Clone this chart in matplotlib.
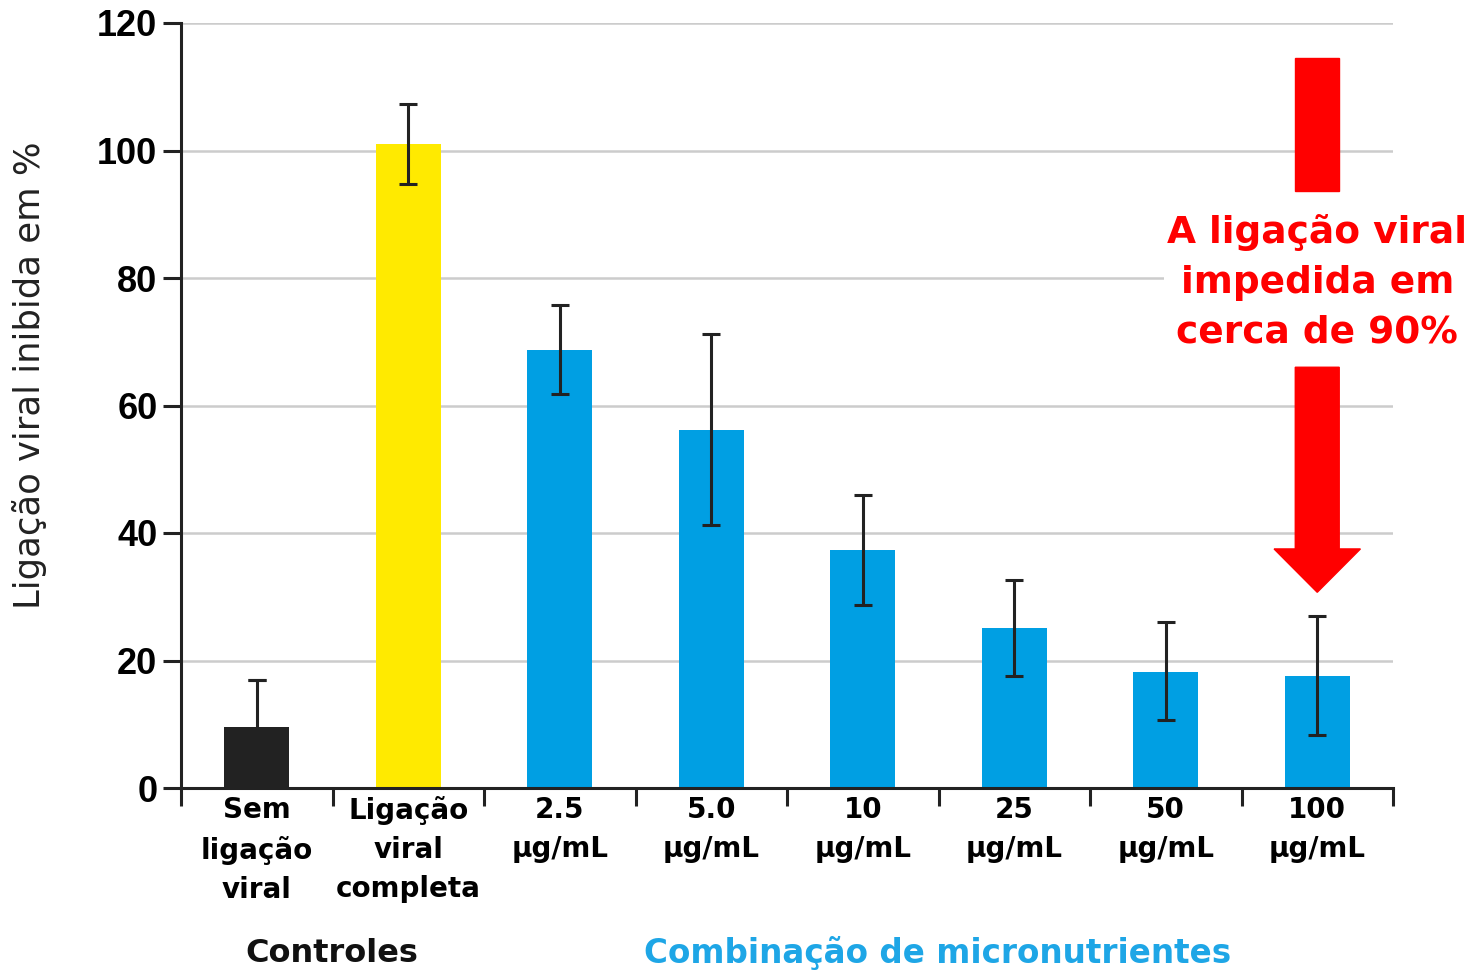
import matplotlib
matplotlib.use("Agg")
import matplotlib.pyplot as plt
from matplotlib.patches import Polygon, Rectangle
import numpy as np

categories = ["Sem\nligação\nviral", "Ligação\nviral\ncompleta", "2.5\nµg/mL", "5.0\nµg/mL",
              "10\nµg/mL", "25\nµg/mL", "50\nµg/mL", "100\nµg/mL"]
values = [9.6, 101.0, 68.7, 56.2, 37.3, 25.1, 18.2, 17.6]
err_low = [0.0, 6.3, 6.9, 15.0, 8.6, 7.6, 7.6, 9.3]
err_high = [7.3, 6.3, 7.1, 15.0, 8.7, 7.5, 7.8, 9.4]
bar_colors = ["#222222", "#ffea00", "#009fe3", "#009fe3", "#009fe3", "#009fe3", "#009fe3", "#009fe3"]
yticks = [0, 20, 40, 60, 80, 100, 120]

W, H = 1471, 973
fig = plt.figure(figsize=(W / 100, H / 100), dpi=100)
ax = fig.add_axes([181 / W, 1 - 788 / H, (1393 - 181) / W, (788 - 23) / H])

x = np.arange(len(categories))
ax.set_xlim(-0.5, len(categories) - 0.5)
ax.set_ylim(0, 120)

for yv in yticks[1:]:
    ax.axhline(yv, color="#cccccc", lw=1.8, zorder=0)

ax.bar(x, values, width=0.43, color=bar_colors, zorder=2)

vals = np.array(values)
lo = np.array(err_low)
hi = np.array(err_high)
both = lo > 0
ax.errorbar(x[both], vals[both], yerr=[lo[both], hi[both]], fmt="none", ecolor="#222222",
            elinewidth=2.2, capsize=6.5, capthick=2.2, zorder=3)
up = ~both
ax.vlines(x[up], vals[up], vals[up] + hi[up], color="#222222", lw=2.2, zorder=3)
ax.errorbar(x[up], vals[up] + hi[up], yerr=0 * hi[up], fmt="none", ecolor="#222222",
            elinewidth=2.2, capsize=6.5, capthick=2.2, zorder=3)

# spines / ticks
for s in ["top", "right"]:
    ax.spines[s].set_visible(False)
for s in ["left", "bottom"]:
    ax.spines[s].set_linewidth(2.2)
    ax.spines[s].set_color("#222222")

ax.set_yticks(yticks)
ax.set_yticklabels([str(v) for v in yticks], fontsize=26, fontweight="bold",
                   family="Liberation Sans")
ax.tick_params(axis="y", length=13, width=2.2, color="#222222", pad=4)

ax.set_xticks(np.arange(-0.5, len(categories), 1.0))
ax.set_xticklabels([])
ax.set_xticks(x, minor=True)
ax.set_xticklabels(categories, minor=True, fontsize=20, fontweight="bold",
                   family="DejaVu Sans", linespacing=1.5, va="top")
ax.tick_params(axis="x", which="major", length=13, width=2.2, color="#222222", direction="out")
ax.tick_params(axis="x", which="minor", length=0, pad=6)

fig.text(30 / W, 1 - 375 / H, "Ligação viral inibida em %", rotation=90, ha="center",
         va="center", fontsize=25.5, family="DejaVu Sans", color="#222222")

# group labels
fig.text(332 / W, 1 - 953 / H, "Controles", ha="center", va="center",
         fontsize=23, fontweight="bold", family="DejaVu Sans", color="#111111")
fig.text(938 / W, 1 - 953 / H, "Combinação de micronutrientes", ha="center", va="center",
         fontsize=23.5, fontweight="bold", family="DejaVu Sans", color="#1ea6e6")

# red annotation arrow
xa = x[-1]
half_shaft = 0.145
half_head = 0.285
tip = values[-1] + err_high[-1] + 3.7
head_base = tip + 6.8
shaft_top = 66.0
ax.add_patch(Rectangle((xa - half_shaft, 93.6), 2 * half_shaft, 114.5 - 93.6,
                       color="#ff0000", zorder=5, clip_on=False))
ax.add_patch(Polygon([(xa - half_shaft, shaft_top), (xa + half_shaft, shaft_top),
                      (xa + half_shaft, head_base), (xa + half_head, head_base),
                      (xa, tip), (xa - half_head, head_base),
                      (xa - half_shaft, head_base)],
                     closed=True, color="#ff0000", zorder=5, clip_on=False))
ax.text(xa, 79.3, "A ligação viral\nimpedida em\ncerca de 90%", ha="center", va="center",
        fontsize=27, fontweight="bold", family="DejaVu Sans", color="#ff0000",
        linespacing=1.5, zorder=6, clip_on=False,
        bbox=dict(boxstyle="square,pad=0.1", fc="white", ec="none"))

fig.savefig("out.png", dpi=100)
